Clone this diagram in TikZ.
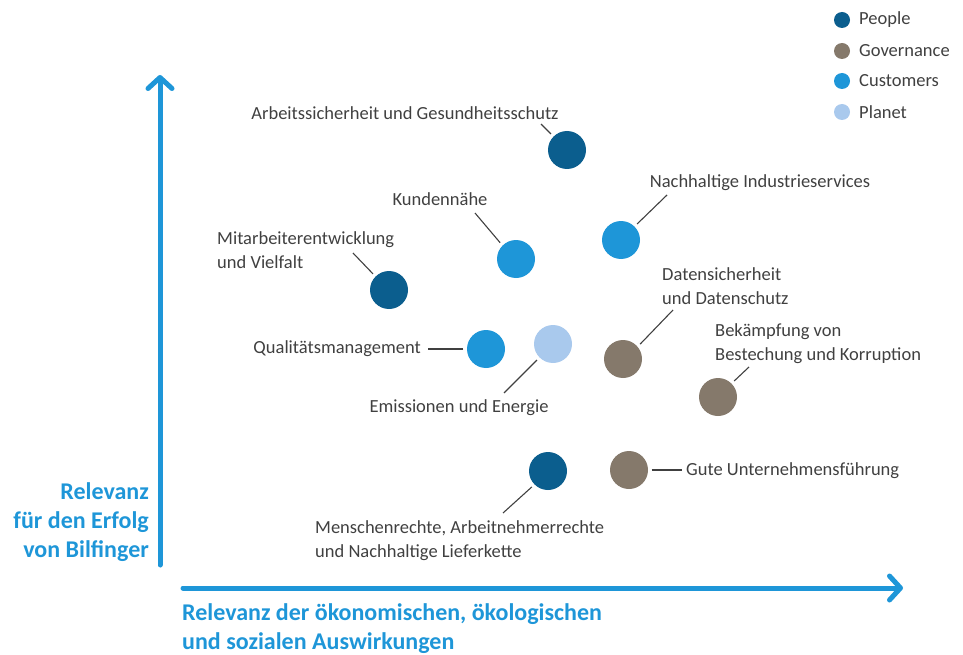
\documentclass[tikz,border=0pt]{standalone}
\usepackage{fontspec}
\setmainfont{Carlito}
\usetikzlibrary{arrows.meta}
\definecolor{people}{HTML}{0B5E8E}
\definecolor{governance}{HTML}{85796B}
\definecolor{customers}{HTML}{1E96D8}
\definecolor{planet}{HTML}{A9C9ED}
\definecolor{axisblue}{HTML}{1E96D8}
\definecolor{txtgray}{HTML}{404040}
\tikzset{
  dot/.style={circle,inner sep=0pt,minimum size=38pt,fill=#1},
  legdot/.style={circle,inner sep=0pt,minimum size=16pt,fill=#1},
  lbl/.style={text=txtgray,font=\fontsize{18.5}{24}\selectfont,inner sep=0pt},
  lead/.style={draw=txtgray,line width=1.1pt,shorten <=3.5pt},
  relaxis/.style={draw=axisblue,line width=5pt,line cap=round,
    -{Straight Barb[length=11pt,width=24pt,line cap=round,line join=round]}},
  axlbl/.style={text=axisblue,font=\fontsize{24}{29}\selectfont\bfseries,inner sep=0pt}
}
\begin{document}
\begin{tikzpicture}[x=1pt,y=-1pt]
\useasboundingbox (0,0) rectangle (963,655);
%---------------- axes
\coordinate (ybot) at (160,565);
\coordinate (ytop) at (160,75);
\coordinate (xleft) at (183,588);
\coordinate (xright) at (903,588);
\draw[relaxis] (ybot) -- (ytop);
\draw[relaxis] (xleft) -- (xright);
\node[axlbl,anchor=east,align=right] (ylab) at (149,522)
  {Relevanz\\für den Erfolg\\von Bilfinger};
\node[axlbl,anchor=west,align=left] (xlab) at (182,629)
  {Relevanz der ökonomischen, ökologischen\\und sozialen Auswirkungen};

%---------------- legend
\foreach \y/\c/\t [count=\i] in {20/people/People,51/governance/Governance,
    81/customers/Customers,112/planet/Planet}{
  \node[legdot=\c] (leg\i) at (842,\y) {};
  \node[lbl,anchor=west,font=\fontsize{18.5}{20}\selectfont] (legt\i) at (859,\y) {\t};
}

%---------------- topics
\node[dot=people] (arb) at (567,150) {};
\node[dot=customers] (kun) at (516,259) {};
\node[dot=customers] (ind) at (621,240) {};
\node[dot=people] (mit) at (389,290) {};
\node[dot=customers] (qua) at (486,349) {};
\node[dot=planet] (emi) at (553,344) {};
\node[dot=governance] (dat) at (623,359) {};
\node[dot=governance] (bek) at (718,397) {};
\node[dot=governance] (gut) at (629,470) {};
\node[dot=people] (men) at (548,471) {};

% labels
\node[lbl] (arbL) at (405,113) {Arbeitssicherheit und Gesundheitsschutz};
\node[lbl] (kunL) at (440,199) {Kundennähe};
\node[lbl] (indL) at (760,183) {Nachhaltige Industrieservices};
\node[lbl,anchor=west,align=left] (mitL) at (217,250) {Mitarbeiterentwicklung\\und Vielfalt};
\node[lbl,anchor=east] (quaL) at (421,349) {Qualitätsmanagement};
\node[lbl] (emiL) at (459,408) {Emissionen und Energie};
\node[lbl,anchor=west,align=left] (datL) at (662,286) {Datensicherheit\\und Datenschutz};
\node[lbl,anchor=west,align=left] (bekL) at (715,344) {Bekämpfung von\\Bestechung und Korruption};
\node[lbl,anchor=west] (gutL) at (686,471) {Gute Unternehmensführung};
\node[lbl,anchor=west,align=left] (menL) at (315,541) {Menschenrechte, Arbeitnehmerrechte\\und Nachhaltige Lieferkette};

% leader lines
\coordinate (arbE) at (541,124);
\coordinate (kunE) at (475,213);
\coordinate (indE) at (667,195);
\coordinate (mitE) at (353,253);
\coordinate (quaE) at (428,349);
\coordinate (emiE) at (504,393);
\coordinate (datE) at (673,310);
\coordinate (bekE) at (749,367);
\coordinate (gutE) at (682,470);
\coordinate (menE) at (503,513);
\draw[lead] (arb.135) -- (arbE);
\draw[lead] (kun.135) -- (kunE);
\draw[lead] (ind.45) -- (indE);
\draw[lead] (mit.135) -- (mitE);
\draw[lead] (qua.180) -- (quaE);
\draw[lead] (emi.225) -- (emiE);
\draw[lead] (dat.40) -- (datE);
\draw[lead] (bek.45) -- (bekE);
\draw[lead] (gut.0) -- (gutE);
\draw[lead] (men.225) -- (menE);
\end{tikzpicture}
\end{document}
